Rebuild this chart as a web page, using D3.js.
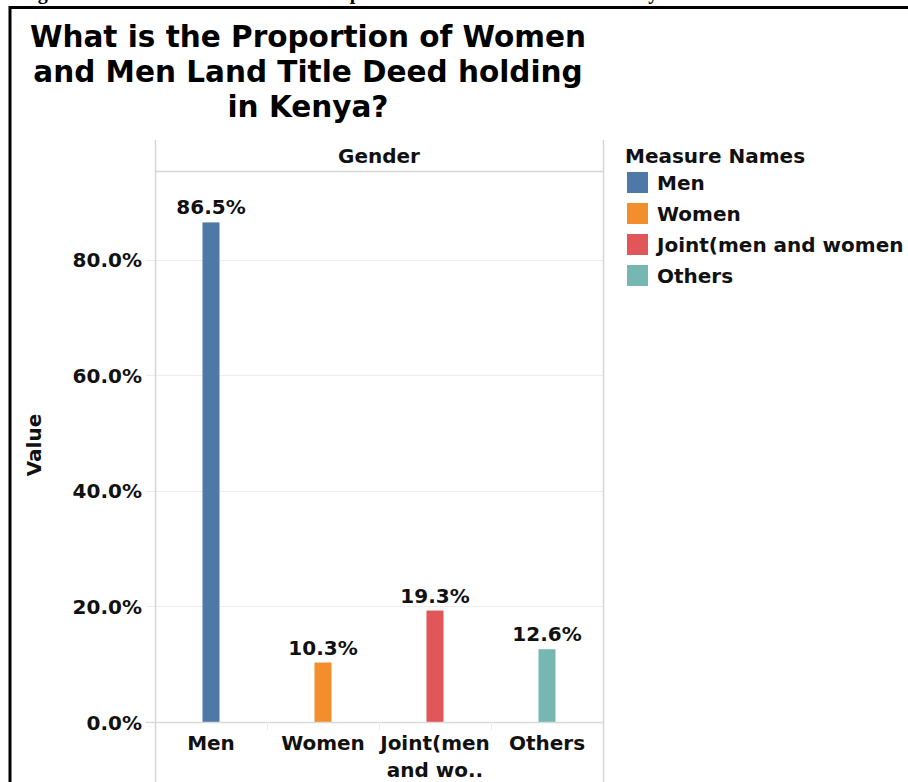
<!DOCTYPE html>
<html>
<head>
<meta charset="utf-8">
<script src="https://cdn.jsdelivr.net/npm/d3@7"></script>
<style>
  html, body { margin: 0; padding: 0; background: #fff; overflow: hidden; }
  svg { display: block; }
  text { font-family: "DejaVu Sans", Verdana, sans-serif; font-weight: bold; fill: #111; }
</style>
</head>
<body>
<script>
// Title deed holding by gender (percent of holders)
const categories = ["Men", "Women", "Joint(men and women)", "Others"];
const axisLabels = [["Men"], ["Women"], ["Joint(men", "and wo.."], ["Others"]];
const values = [86.5, 10.3, 19.3, 12.6];
const colors = ["#4e79a7", "#f28e2b", "#e15759", "#76b7b2"];
const yTicks = [0, 20, 40, 60, 80];
const titleLines = ["What is the Proportion of Women", "and Men Land Title Deed holding", "in Kenya?"];

const W = 908, H = 782;
const svg = d3.select("body").append("svg").attr("width", W).attr("height", H);

// Page caption above the frame (runs off the top edge)
svg.append("text")
  .attr("x", 20).attr("y", -1)
  .style("font-family", "'Liberation Serif', 'Times New Roman', serif")
  .style("font-size", "20px")
  .style("fill", "#000")
  .text("Figure 4: Land Title Deed Holders Proportion of Men and Women in Kenya");

// Frame
svg.append("line").attr("x1", 9).attr("x2", W).attr("y1", 7.5).attr("y2", 7.5)
  .attr("stroke", "#000").attr("stroke-width", 3);
svg.append("line").attr("x1", 10).attr("x2", 10).attr("y1", 6).attr("y2", H)
  .attr("stroke", "#000").attr("stroke-width", 3);

// Title
svg.append("g").selectAll("text").data(titleLines).join("text")
  .attr("x", 308).attr("y", (d, i) => 47 + i * 35)
  .attr("text-anchor", "middle")
  .style("font-size", "29.5px")
  .style("fill", "#000")
  .text(d => d);

// Plot geometry
const paneL = 155, paneR = 603, paneT = 171, paneB = 722, headT = 140;

const x = d3.scaleBand().domain(categories).range([paneL, paneR]).paddingInner(0).paddingOuter(0);
const y = d3.scaleLinear().domain([0, 95.4]).range([paneB, paneT]);

const gridColor = "#ededed", borderColor = "#d6d6d6";
const fs = "20px";

// Gridlines
svg.append("g").selectAll("line").data(yTicks.filter(t => t > 0)).join("line")
  .attr("x1", 146).attr("x2", paneR)
  .attr("y1", d => Math.round(y(d)) + 0.5).attr("y2", d => Math.round(y(d)) + 0.5)
  .attr("stroke", gridColor).attr("stroke-width", 1);

// Pane borders and header
svg.append("line").attr("x1", paneL + 0.5).attr("x2", paneL + 0.5).attr("y1", headT).attr("y2", H)
  .attr("stroke", borderColor).attr("stroke-width", 1.5);
svg.append("line").attr("x1", paneR + 0.5).attr("x2", paneR + 0.5).attr("y1", headT).attr("y2", H)
  .attr("stroke", borderColor).attr("stroke-width", 1.5);
svg.append("line").attr("x1", paneL).attr("x2", paneR).attr("y1", paneT + 0.5).attr("y2", paneT + 0.5)
  .attr("stroke", borderColor).attr("stroke-width", 1.5);
svg.append("text").attr("x", (paneL + paneR) / 2).attr("y", 163)
  .attr("text-anchor", "middle").style("font-size", fs).text("Gender");

// Y axis
const yAxis = svg.append("g").attr("transform", `translate(142,0)`)
  .call(d3.axisLeft(y).tickValues(yTicks).tickSize(0).tickFormat(d => d.toFixed(1) + "%"));
yAxis.select(".domain").remove();
yAxis.selectAll("text").attr("x", 0).attr("dy", "0.35em")
  .attr("font-size", null).attr("font-family", null)
  .style("font-size", fs);

svg.append("text")
  .attr("transform", `translate(41,445) rotate(-90)`)
  .attr("text-anchor", "middle").style("font-size", fs).text("Value");

// Bars
const barW = 17;
svg.append("g").selectAll("rect").data(values).join("rect")
  .attr("x", (d, i) => x(categories[i]) + x.bandwidth() / 2 - barW / 2)
  .attr("width", barW)
  .attr("y", d => y(d))
  .attr("height", d => paneB - y(d))
  .attr("fill", (d, i) => colors[i]);

// Value labels
svg.append("g").selectAll("text").data(values).join("text")
  .attr("x", (d, i) => x(categories[i]) + x.bandwidth() / 2)
  .attr("y", d => y(d) - 8)
  .attr("text-anchor", "middle").style("font-size", fs)
  .text(d => d.toFixed(1) + "%");

// Zero line
svg.append("line").attr("x1", 146).attr("x2", paneR).attr("y1", paneB + 0.5).attr("y2", paneB + 0.5)
  .attr("stroke", "#d9d9d9").attr("stroke-width", 1.5);

// Category dividers
svg.append("g").selectAll("line").data(categories.slice(1)).join("line")
  .attr("x1", d => x(d) + 0.5).attr("x2", d => x(d) + 0.5)
  .attr("y1", paneB).attr("y2", paneB + 8)
  .attr("stroke", "#ececec").attr("stroke-width", 1);

// Category labels
const xl = svg.append("g").selectAll("text").data(categories).join("text")
  .attr("x", d => x(d) + x.bandwidth() / 2)
  .attr("y", 750)
  .attr("text-anchor", "middle").style("font-size", fs);
xl.selectAll("tspan").data((d, i) => axisLabels[i]).join("tspan")
  .attr("x", function () { return d3.select(this.parentNode).attr("x"); })
  .attr("dy", (d, j) => j === 0 ? 0 : 27)
  .text(d => d);

// Legend (its panel ends just inside the right edge)
svg.append("clipPath").attr("id", "legend-clip")
  .append("rect").attr("x", 610).attr("y", 130).attr("width", 295).attr("height", 200);
const lg = svg.append("g").attr("clip-path", "url(#legend-clip)");
lg.append("text").attr("x", 625).attr("y", 163).style("font-size", fs).text("Measure Names");
const items = lg.selectAll("g.item").data(categories).join("g")
  .attr("class", "item")
  .attr("transform", (d, i) => `translate(627,${172 + i * 31})`);
items.append("rect").attr("width", 21).attr("height", 21).attr("fill", (d, i) => colors[i]);
items.append("text").attr("x", 30).attr("y", 18).style("font-size", fs).text(d => d);
</script>
</body>
</html>
